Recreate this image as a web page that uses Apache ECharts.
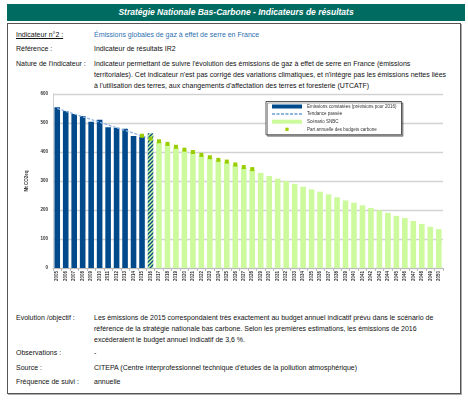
<!DOCTYPE html>
<html><head><meta charset="utf-8">
<script src="https://cdn.jsdelivr.net/npm/echarts@6/dist/echarts.min.js"></script>
<style>
body{margin:0;width:468px;height:400px;background:#fff;position:relative;overflow:hidden;font-family:"Liberation Sans",Arial,sans-serif;}
.t{position:absolute;font-size:7px;line-height:11px;color:#111;white-space:nowrap}
.v{left:94px}
.l{left:16px}
#bar{position:absolute;left:7px;top:4px;width:458px;height:17px;background:#006b60;color:#fff;font-style:italic;font-weight:bold;font-size:8.5px;text-align:center;line-height:17px}
#box{position:absolute;left:7px;top:23px;width:452px;height:369px;border:1px solid #555;box-shadow:1px 1px 0 #aaa}
#chart{position:absolute;left:8px;top:86px;width:453px;height:210px}
</style></head>
<body>
<div id="bar">Stratégie Nationale Bas-Carbone - Indicateurs de résultats</div>
<div id="box"></div>
<div class="t l" style="top:29px;text-decoration:underline">Indicateur n°2 :</div>
<div class="t v" style="top:29px;color:#2e6fb0">Émissions globales de gaz à effet de serre en France</div>
<div class="t l" style="top:43px">Référence :</div>
<div class="t v" style="top:43px">Indicateur de résultats IR2</div>
<div class="t l" style="top:58px">Nature de l'indicateur :</div>
<div class="t v" style="top:58px">Indicateur permettant de suivre l'évolution des émissions de gaz à effet de serre en France (émissions<br>territoriales). Cet indicateur n'est pas corrigé des variations climatiques, et n'intègre pas les émissions nettes liées<br>à l'utilisation des terres, aux changements d'affectation des terres et foresterie (UTCATF)</div>
<div id="chart"></div>
<div class="t l" style="top:312px">Evolution /objectif :</div>
<div class="t v" style="top:312px">Les émissions de 2015 correspondaient très exactement au budget annuel indicatif prévu dans le scénario de<br>référence de la stratégie nationale bas carbone. Selon les premières estimations, les émissions de 2016<br>excèderaient le budget annuel indicatif de 3,6 %.</div>
<div class="t l" style="top:347px">Observations :</div>
<div class="t v" style="top:347px">-</div>
<div class="t l" style="top:362px">Source :</div>
<div class="t v" style="top:362px">CITEPA (Centre interprofessionnel technique d'études de la pollution atmosphérique)</div>
<div class="t l" style="top:376px">Fréquence de suivi :</div>
<div class="t v" style="top:376px">annuelle</div>
<script>
const years = ['2005','2006','2007','2008','2009','2010','2011','2012','2013','2014','2015','2016',
  '2017','2018','2019','2020','2021','2022','2023','2024','2025','2026','2027','2028','2029','2030',
  '2031','2032','2033','2034','2035','2036','2037','2038','2039','2040','2041','2042','2043','2044',
  '2045','2046','2047','2048','2049','2050'];
// Emissions constatées 2005-2016 (2016 = prévision)
const emissionYears = ['2005','2006','2007','2008','2009','2010','2011','2012','2013','2014','2015','2016'];
const emissions = [554, 541, 531, 524, 504, 511, 485, 484, 480, 455, 453, 465];
// Tendance passée (end points)
const trendYears = ['2005','2016'];
const trendValues = [550, 446];
// Scénario SNBC 2017-2050
const snbcYears = years.slice(12);
const snbc = [435, 426, 416, 406, 398, 388, 380, 371, 365, 355, 346, 339, 328, 317,
  308, 300, 290, 280, 271, 263, 254, 244, 233, 225, 216, 207, 199, 190, 180, 172, 162, 152, 142, 134];
// Part annuelle des budgets carbone 2015-2028
const budgetYears = ['2015','2016','2017','2018','2019','2020','2021','2022','2023','2024','2025','2026','2027','2028'];
const budgets = [456, 446, 437, 428, 418, 408, 400, 390, 382, 373, 367, 357, 348, 341];

const BLUE = '#004a8c', GREEN = '#ccfa9c', POINT = '#9acd00';
const pc = document.createElement('canvas'); pc.width = 4; pc.height = 4;
const g = pc.getContext('2d');
g.fillStyle = GREEN; g.fillRect(0,0,4,4);
g.strokeStyle = BLUE; g.lineWidth = 1.3; g.beginPath();
g.moveTo(-1,1); g.lineTo(1,-1); g.moveTo(0,4); g.lineTo(4,0); g.moveTo(3,5); g.lineTo(5,3); g.stroke();
const hatch = {image: pc, repeat: 'repeat'};

const align = (ys, vs) => years.map(y => { const i = ys.indexOf(y); return i < 0 ? null : vs[i]; });
const emisData = align(emissionYears, emissions).map((v, i) =>
  years[i] === '2016' ? {value: v, itemStyle: {color: hatch}} : v);

const chart = echarts.init(document.getElementById('chart'));
const F = '"Liberation Sans", Arial, sans-serif';
chart.setOption({
  animation: false,
  textStyle: {fontFamily: F},
  grid: {left: 45, right: 18, top: 8, bottom: 28},
  legend: {
    left: 258, top: 15.5, orient: 'vertical',
    backgroundColor: '#fff', borderColor: '#555', borderWidth: 1, padding: [2.5, 5, 3, 5],
    shadowColor: 'rgba(0,0,0,0.35)', shadowOffsetX: 1.5, shadowOffsetY: 1.5, shadowBlur: 0,
    itemWidth: 30, itemHeight: 4, itemGap: 2.6,
    textStyle: {fontSize: 4.5, color: '#333', fontFamily: F},
    data: [
      {name: 'Emissions constatées (prévisions pour 2016)', icon: 'rect'},
      {name: 'Tendance passée'},
      {name: 'Scénario SNBC', icon: 'rect'},
      {name: 'Part annuelle des budgets carbone'}
    ]
  },
  xAxis: {
    type: 'category', data: years,
    axisLine: {lineStyle: {color: '#bdbdbd', width: 1}},
    axisTick: {show: true, length: 3, lineStyle: {color: '#bdbdbd'}},
    axisLabel: {rotate: 90, fontSize: 4.5, color: '#333', margin: 3, fontWeight: 'bold', interval: 0}
  },
  yAxis: {
    type: 'value', min: 0, max: 600, interval: 100,
    name: 'Mt CO2eq', nameLocation: 'middle', nameGap: 20, nameRotate: 90,
    nameTextStyle: {fontSize: 4.5, color: '#333', fontWeight: 'bold'},
    axisLine: {show: true, lineStyle: {color: '#d0d0d0', width: 1}},
    axisTick: {show: false},
    axisLabel: {fontSize: 4.5, color: '#333', fontWeight: 'bold', margin: 5},
    splitLine: {lineStyle: {color: '#d2d2d2', width: 1.3}}
  },
  series: [
    {name: 'Emissions constatées (prévisions pour 2016)', type: 'bar', data: emisData,
     barWidth: 5.6, barGap: '-100%', itemStyle: {color: BLUE}},
    {name: 'Scénario SNBC', type: 'bar', data: align(snbcYears, snbc),
     barWidth: 5.6, barGap: '-100%', itemStyle: {color: GREEN}},
    {name: 'Tendance passée', type: 'line', data: align(trendYears, trendValues), connectNulls: true,
     symbol: 'none', itemStyle: {color: '#8eb4e3', opacity: 0},
     lineStyle: {color: '#8eb4e3', width: 1.3, type: [3, 1.5]}, z: 5},
    {name: 'Part annuelle des budgets carbone', type: 'line', data: align(budgetYears, budgets),
     symbol: 'rect', symbolSize: 4, showSymbol: true, itemStyle: {color: POINT},
     lineStyle: {opacity: 0, width: 0}, z: 6}
  ]
});
</script>
</body></html>
